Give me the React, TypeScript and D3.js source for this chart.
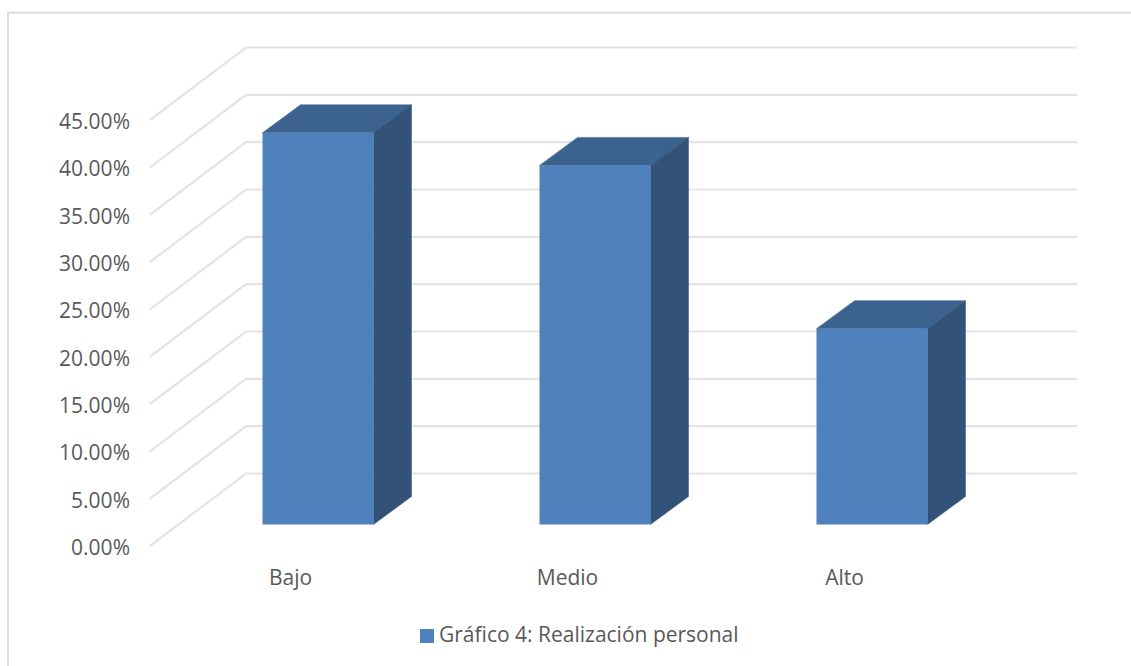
import React from "react";
import * as d3 from "d3";

const categories = ["Bajo", "Medio", "Alto"];
const values = [41.38, 37.93, 20.69];
const ticks = [0, 5, 10, 15, 20, 25, 30, 35, 40, 45];
const legendLabel = "Gráfico 4: Realización personal";

const WIDTH = 1131;
const HEIGHT = 666;
const FONT = "'Open Sans', sans-serif";
const FONT_SIZE = 21;
const TEXT = "#595959";
const GRID = "#e4e4e4";
const BAR_FRONT = "#4f81bd";
const BAR_TOP = "#3c6390";
const BAR_SIDE = "#325277";

// Front wall of the plot; the back wall is this shifted by the depth vector.
const yWall = d3.scaleLinear().domain([0, 45]).range([546, 120]);
const wallDepth = { dx: 96, dy: -72.5 };
const frontX = 150;
const backRight = 1077;

// Bars stand part-way into the floor, so they get their own baseline.
const barBaseline = 524.5;
const barScale = d3.scaleLinear().domain([0, 45]).range([barBaseline, barBaseline - 426]);
const barDepth = { dx: 38, dy: -28 };
const barWidth = 111;
const xCenter = d3.scalePoint<string>().domain(categories).range([318, 872]);
const labelShift = -27.5;

function poly(points: [number, number][]) {
  return points.map((p) => p.join(",")).join(" ");
}

export default function App() {
  return (
    <svg
      width={WIDTH}
      height={HEIGHT}
      viewBox={`0 0 ${WIDTH} ${HEIGHT}`}
      style={{ position: "absolute", left: 0, top: 0, background: "#fff" }}
    >
      <polyline points={poly([[8, HEIGHT], [8, 12.7], [WIDTH, 12.7]])} fill="none" stroke="#d9d9d9" strokeWidth={1.8} />

      {ticks.map((t) => {
        const y = yWall(t);
        const by = y + wallDepth.dy;
        return (
          <g key={t}>
            <polyline
              points={poly([[frontX, y], [frontX + wallDepth.dx, by], [backRight, by]])}
              fill="none"
              stroke={GRID}
              strokeWidth={2.2}
            />
            <text x={130} y={y + 9} textAnchor="end" fontFamily={FONT} fontSize={FONT_SIZE} fill={TEXT}>
              {d3.format(".2f")(t)}%
            </text>
          </g>
        );
      })}

      {categories.map((c, i) => {
        const cx = xCenter(c) as number;
        const x0 = cx - barWidth / 2;
        const x1 = x0 + barWidth;
        const top = barScale(values[i]);
        const { dx, dy } = barDepth;
        return (
          <g key={c}>
            <polygon
              points={poly([[x0, top], [x1, top], [x1 + dx, top + dy], [x0 + dx, top + dy]])}
              fill={BAR_TOP}
              stroke={BAR_TOP}
              strokeWidth={0.5}
            />
            <polygon
              points={poly([[x1, top], [x1 + dx, top + dy], [x1 + dx, barBaseline + dy], [x1, barBaseline]])}
              fill={BAR_SIDE}
              stroke={BAR_SIDE}
              strokeWidth={0.5}
            />
            <rect x={x0} y={top} width={barWidth} height={barBaseline - top} fill={BAR_FRONT} />
            <text x={cx + labelShift} y={585} textAnchor="middle" fontFamily={FONT} fontSize={FONT_SIZE} fill={TEXT}>
              {c}
            </text>
          </g>
        );
      })}

      <rect x={420} y={629} width={14} height={14} fill={BAR_FRONT} />
      <text x={439} y={642} fontFamily={FONT} fontSize={FONT_SIZE} fill={TEXT}>
        {legendLabel}
      </text>
    </svg>
  );
}
